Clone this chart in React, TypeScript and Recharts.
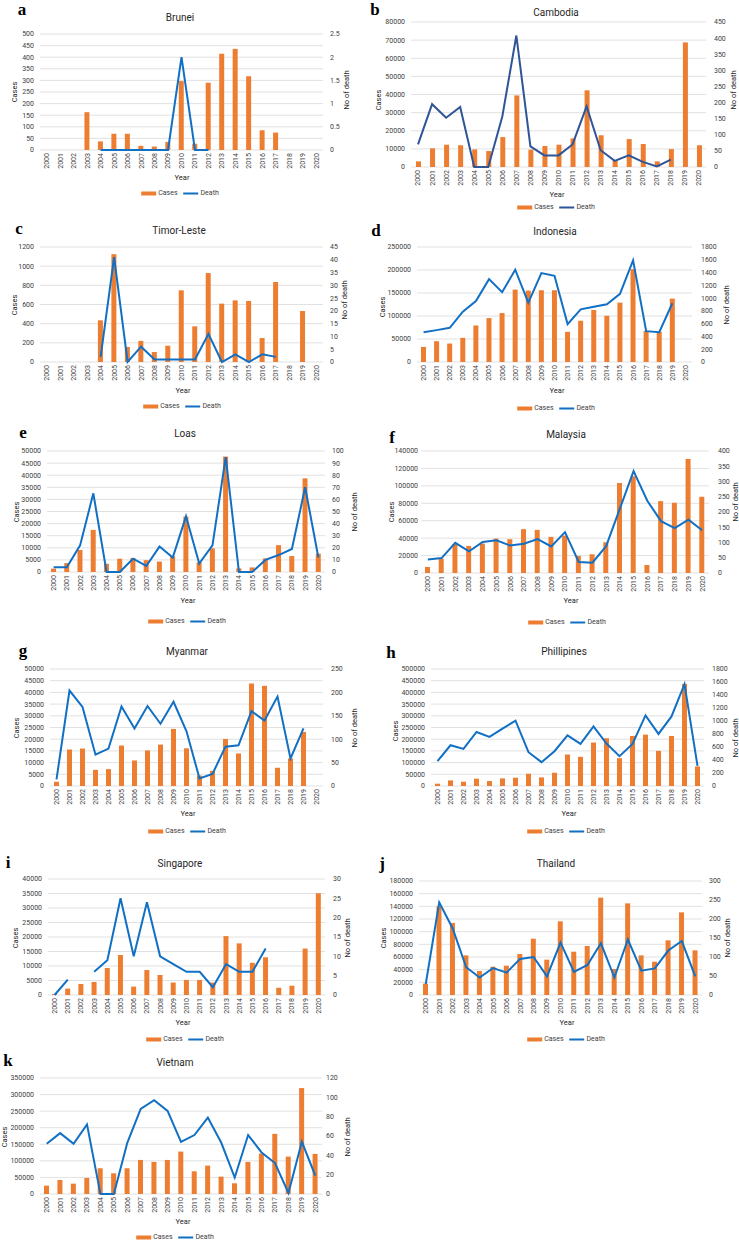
import React from "react";
import { ComposedChart, Bar, Line, XAxis, YAxis, CartesianGrid } from "recharts";

// Dengue cases (bars, left axis) and deaths (line, right axis), 2000-2020

const years = [
  "2000", "2001", "2002", "2003", "2004", "2005", "2006", "2007", "2008", "2009", "2010",
  "2011", "2012", "2013", "2014", "2015", "2016", "2017", "2018", "2019", "2020",
];

const bruneiCases = [null, null, null, 163, 37, 70, 70, 18, 15, 35, 297, 27, 290, 415, 436, 318, 85, 75, null, null, null];
const bruneiDeaths = [null, null, null, null, 0, 0, 0, 0, 0, 0, 2, 0, 0, null, null, null, null, null, null, null, null];
const bruneiCaseTicks = [0, 50, 100, 150, 200, 250, 300, 350, 400, 450, 500];
const bruneiDeathTicks = [0, 0.5, 1, 1.5, 2, 2.5];

const cambodiaCases = [3100, 10300, 12300, 12000, 9700, 8800, 16500, 39500, 9600, 11600, 12300, 15800, 42300, 17500, 3700, 15400, 12700, 3100, 9900, 68750, 12000];
const cambodiaDeaths = [70, 195, 153, 186, 0, 0, 157, 408, 64, 36, 36, 70, 188, 52, 19, 36, 16, 2, 23, null, null];
const cambodiaCaseTicks = [0, 10000, 20000, 30000, 40000, 50000, 60000, 70000, 80000];
const cambodiaDeathTicks = [0, 50, 100, 150, 200, 250, 300, 350, 400, 450];

const timorCases = [null, null, null, null, 435, 1125, 157, 220, 104, 170, 748, 372, 928, 609, 643, 637, 250, 835, null, 532, null];
const timorDeaths = [null, null, null, null, 2, 41, 0, 6, 1, 1, 1, 1, 11, 0, 3, 0, 3, 2, null, null, null];
const timorCaseTicks = [0, 200, 400, 600, 800, 1000, 1200];
const timorDeathTicks = [0, 5, 10, 15, 20, 25, 30, 35, 40, 45];

const indonesiaCases = [32800, 45200, 40100, 52500, 79400, 95500, 106400, 157400, 155200, 156000, 156000, 65600, 89700, 113000, 100600, 129000, 201900, 67800, 65600, 137800, null];
const indonesiaDeaths = [467, 499, 535, 787, 955, 1297, 1092, 1444, 929, 1391, 1349, 593, 824, 866, 903, 1066, 1591, 483, 467, 919, null];
const indonesiaCaseTicks = [0, 50000, 100000, 150000, 200000, 250000];
const indonesiaDeathTicks = [0, 200, 400, 600, 800, 1000, 1200, 1400, 1600, 1800];

const laosCases = [1400, 3700, 9100, 17400, 3400, 5500, 5800, 4900, 4300, 6500, 22900, 4000, 9800, 47700, 1500, 1900, 5600, 11100, 6600, 38700, 7600];
const laosDeaths = [4, 4, 22, 65, 0, 0, 11, 5, 21, 12, 46, 7, 22, 95, 0, 0, 10, 14, 19, 70, 12];
const laosCaseTicks = [0, 5000, 10000, 15000, 20000, 25000, 30000, 35000, 40000, 45000, 50000];
const laosDeathTicks = [0, 10, 20, 30, 40, 50, 60, 70, 80, 90, 100];

const malaysiaCases = [6900, 16500, 33400, 31100, 33800, 39500, 38800, 50300, 49500, 41500, 43000, 19600, 21500, 35300, 103300, 111000, 9200, 82500, 80600, 130900, 87500];
const malaysiaDeaths = [44, 49, 99, 71, 102, 107, 90, 96, 111, 87, 134, 36, 34, 88, 211, 334, 237, 170, 147, 175, 140];
const malaysiaCaseTicks = [0, 20000, 40000, 60000, 80000, 100000, 120000, 140000];
const malaysiaDeathTicks = [0, 50, 100, 150, 200, 250, 300, 350, 400];

const myanmarCases = [1800, 15600, 16000, 6900, 7200, 17300, 10900, 15200, 17700, 24400, 16100, 4500, 6500, 20100, 13900, 43800, 42800, 7800, 11800, 23100, null];
const myanmarDeaths = [14, 204, 169, 67, 80, 170, 123, 171, 133, 180, 117, 16, 26, 84, 87, 160, 140, 191, 59, 123, null];
const myanmarCaseTicks = [0, 5000, 10000, 15000, 20000, 25000, 30000, 35000, 40000, 45000, 50000];
const myanmarDeathTicks = [0, 50, 100, 150, 200, 250];

const philippinesCases = [9900, 24000, 18400, 31200, 21200, 32600, 35400, 52400, 36800, 56700, 134600, 124700, 185600, 204000, 119000, 213900, 219500, 150100, 213900, 436300, 83600];
const philippinesDeaths = [382, 627, 571, 831, 755, 882, 1005, 520, 367, 535, 780, 648, 918, 653, 459, 648, 1086, 801, 1071, 1566, 311];
const philippinesCaseTicks = [0, 50000, 100000, 150000, 200000, 250000, 300000, 350000, 400000, 450000, 500000];
const philippinesDeathTicks = [0, 200, 400, 600, 800, 1000, 1200, 1400, 1600, 1800];

const singaporeCases = [350, 2200, 3800, 4500, 9300, 13800, 2900, 8600, 6900, 4300, 5200, 5200, 4300, 20300, 17800, 11100, 13000, 2500, 3200, 16000, 35100];
const singaporeDeaths = [0, 4, null, 6, 9, 25, 10, 24, 10, 8, 6, 6, 2, 8, 6, 6, 12, null, null, null, null];
const singaporeCaseTicks = [0, 5000, 10000, 15000, 20000, 25000, 30000, 35000, 40000];
const singaporeDeathTicks = [0, 5, 10, 15, 20, 25, 30];

const thailandCases = [17900, 140000, 113700, 62600, 37900, 44700, 46300, 64700, 88900, 55800, 116300, 68400, 77400, 153700, 41000, 144700, 62600, 52600, 86300, 130500, 70500];
const thailandDeaths = [29, 244, 175, 73, 46, 71, 59, 95, 100, 49, 138, 61, 79, 136, 46, 146, 64, 70, 117, 142, 49];
const thailandCaseTicks = [0, 20000, 40000, 60000, 80000, 100000, 120000, 140000, 160000, 180000];
const thailandDeathTicks = [0, 50, 100, 150, 200, 250, 300];

const vietnamCases = [25200, 42300, 31200, 48400, 77600, 62500, 77600, 102800, 96800, 102800, 128000, 68500, 85700, 52400, 32300, 96800, 122000, 181500, 112900, 319600, 121000];
const vietnamDeaths = [52, 63, 52, 72, 0, 0, 53, 88, 97, 86, 54, 61, 79, 53, 17, 61, 43, 32, 1, 54, 19];
const vietnamCaseTicks = [0, 50000, 100000, 150000, 200000, 250000, 300000, 350000];
const vietnamDeathTicks = [0, 20, 40, 60, 80, 100, 120];

const BAR_COLOR = "#ED7D31";
const LINE_COLOR = "#1170C4";
const TEXT = "#404040";
const X_AXIS_H = 20;
const RIGHT_W = 28;

type Pt = [number, number];

type PanelProps = {
  letter: string;
  title: string;
  cases: (number | null)[];
  deaths: (number | null)[];
  caseTicks: number[];
  deathTicks: number[];
  box: [number, number, number]; // left, top, width
  plot: [number, number, number, number]; // x1, x2, y1, y2
  rightGap: number;
  leftGap?: number;
  lineColor?: string;
  letterAt: Pt;
  titleAt: Pt;
  casesAt: Pt;
  deathAt: Pt;
  yearAt: Pt;
  legendAt: Pt;
};

const YearTick = (props: any) => {
  const { x, y, payload } = props;
  return (
    <text
      x={x}
      y={y}
      transform={`rotate(-90 ${x} ${y})`}
      textAnchor="end"
      dy="0.35em"
      fontSize={7}
      fill={TEXT}
    >
      {payload.value}
    </text>
  );
};

const Txt = ({ at, size, rotate, style, children }: any) => (
  <div
    style={{
      position: "absolute",
      left: at[0],
      top: at[1],
      transform: `translate(-50%, -50%)${rotate ? " rotate(-90deg)" : ""}`,
      fontSize: size,
      color: "#262626",
      whiteSpace: "nowrap",
      lineHeight: 1,
      ...style,
    }}
  >
    {children}
  </div>
);

const LegendRow = ({ at, color }: { at: Pt; color: string }) => (
  <div
    style={{
      position: "absolute",
      left: at[0],
      top: at[1],
      transform: "translate(-50%, -50%)",
      display: "flex",
      alignItems: "center",
      fontSize: 7,
      color: TEXT,
      whiteSpace: "nowrap",
      lineHeight: 1,
    }}
  >
    <span style={{ width: 15, height: 4, background: BAR_COLOR, marginRight: 2 }} />
    Cases
    <span style={{ width: 15, height: 2, background: color, marginLeft: 6, marginRight: 2 }} />
    Death
  </div>
);

const Panel = (p: PanelProps) => {
  const data = years.map((year, i) => ({ year, cases: p.cases[i], death: p.deaths[i] }));
  const [bx, by, bw] = p.box;
  const [x1, x2, y1, y2] = p.plot;
  const color = p.lineColor || LINE_COLOR;
  return (
    <>
      <div style={{ position: "absolute", left: bx, top: by }}>
        <ComposedChart
          width={bw}
          height={y2 - by + X_AXIS_H}
          data={data}
          margin={{ top: y1 - by, left: 0, right: bx + bw - x2 - RIGHT_W, bottom: 0 }}
        >
          <CartesianGrid yAxisId="left" vertical={false} stroke="#D9D9D9" strokeWidth={0.8} />
          <XAxis
            dataKey="year"
            height={X_AXIS_H}
            axisLine={false}
            tickLine={false}
            tickSize={0}
            tickMargin={3}
            interval={0}
            tick={<YearTick />}
          />
          <YAxis
            yAxisId="left"
            width={x1 - bx}
            domain={[0, p.caseTicks[p.caseTicks.length - 1]]}
            ticks={p.caseTicks}
            interval={0}
            axisLine={false}
            tickLine={false}
            tickSize={0}
            tickMargin={p.leftGap ?? 6}
            tick={{ fontSize: 7, fill: TEXT }}
          />
          <YAxis
            yAxisId="right"
            orientation="right"
            width={RIGHT_W}
            domain={[0, p.deathTicks[p.deathTicks.length - 1]]}
            ticks={p.deathTicks}
            interval={0}
            axisLine={false}
            tickLine={false}
            tickSize={0}
            tickMargin={p.rightGap}
            tick={{ fontSize: 7, fill: TEXT, textAnchor: "start" }}
          />
          <Bar yAxisId="left" dataKey="cases" fill={BAR_COLOR} barSize={5} isAnimationActive={false} />
          <Line
            yAxisId="right"
            type="linear"
            dataKey="death"
            stroke={color}
            strokeWidth={2}
            dot={false}
            activeDot={false}
            isAnimationActive={false}
          />
        </ComposedChart>
      </div>
      <Txt at={p.letterAt} size={17} style={{ fontFamily: "'Liberation Serif', serif", fontWeight: 700, color: "#000" }}>
        {p.letter}
      </Txt>
      <Txt at={p.titleAt} size={10}>{p.title}</Txt>
      <Txt at={p.casesAt} size={7.5} rotate>Cases</Txt>
      <Txt at={p.deathAt} size={7.5} rotate>No of death</Txt>
      <Txt at={p.yearAt} size={7.5}>Year</Txt>
      <LegendRow at={p.legendAt} color={color} />
    </>
  );
};

const panels: PanelProps[] = [
  {
    letter: "a", title: "Brunei", cases: bruneiCases, deaths: bruneiDeaths,
    caseTicks: bruneiCaseTicks, deathTicks: bruneiDeathTicks,
    box: [0, 0, 369], plot: [40, 323, 34, 150], rightGap: 7,
    letterAt: [22, 9], titleAt: [180, 18], casesAt: [15, 92], deathAt: [347, 90],
    yearAt: [182, 178], legendAt: [180, 193],
  },
  {
    letter: "b", title: "Cambodia", cases: cambodiaCases, deaths: cambodiaDeaths,
    caseTicks: cambodiaCaseTicks, deathTicks: cambodiaDeathTicks,
    box: [369, 0, 370], plot: [411, 706, 22, 167], rightGap: 8, lineColor: "#2F5597",
    letterAt: [375, 9], titleAt: [556, 13], casesAt: [379, 100], deathAt: [734, 90],
    yearAt: [557, 195], legendAt: [556, 207],
  },
  {
    letter: "c", title: "Timor-Leste", cases: timorCases, deaths: timorDeaths,
    caseTicks: timorCaseTicks, deathTicks: timorDeathTicks,
    box: [0, 200, 369], plot: [40, 323, 247, 362], rightGap: 7,
    letterAt: [19, 228], titleAt: [179, 231], casesAt: [15, 305], deathAt: [345, 300],
    yearAt: [183, 391], legendAt: [182, 406],
  },
  {
    letter: "d", title: "Indonesia", cases: indonesiaCases, deaths: indonesiaDeaths,
    caseTicks: indonesiaCaseTicks, deathTicks: indonesiaDeathTicks,
    box: [369, 200, 370], plot: [417, 692, 247, 362], rightGap: 9,
    letterAt: [376, 230], titleAt: [555, 232], casesAt: [383, 307], deathAt: [727, 305],
    yearAt: [557, 391], legendAt: [556, 408],
  },
  {
    letter: "e", title: "Loas", cases: laosCases, deaths: laosDeaths,
    caseTicks: laosCaseTicks, deathTicks: laosDeathTicks,
    box: [0, 400, 369], plot: [47, 325, 451, 572], rightGap: 7,
    letterAt: [23, 432], titleAt: [185, 434], casesAt: [17, 512], deathAt: [355, 512],
    yearAt: [188, 601], legendAt: [187, 621],
  },
  {
    letter: "f", title: "Malaysia", cases: malaysiaCases, deaths: malaysiaDeaths,
    caseTicks: malaysiaCaseTicks, deathTicks: malaysiaDeathTicks,
    box: [369, 400, 370], plot: [421, 709, 451, 573], rightGap: 9, leftGap: 3,
    letterAt: [392, 437], titleAt: [566, 435], casesAt: [392, 512], deathAt: [736, 502],
    yearAt: [571, 601], legendAt: [567, 622],
  },
  {
    letter: "g", title: "Myanmar", cases: myanmarCases, deaths: myanmarDeaths,
    caseTicks: myanmarCaseTicks, deathTicks: myanmarDeathTicks,
    box: [0, 600, 369], plot: [50, 323, 669, 786], rightGap: 8,
    letterAt: [23, 650], titleAt: [187, 652], casesAt: [17, 728], deathAt: [355, 728],
    yearAt: [188, 814], legendAt: [187, 831],
  },
  {
    letter: "h", title: "Phillipines", cases: philippinesCases, deaths: philippinesDeaths,
    caseTicks: philippinesCaseTicks, deathTicks: philippinesDeathTicks,
    box: [369, 600, 370], plot: [431, 704, 669, 786], rightGap: 8,
    letterAt: [391, 652], titleAt: [564, 652], casesAt: [396, 731], deathAt: [736, 738],
    yearAt: [569, 814], legendAt: [566, 831],
  },
  {
    letter: "i", title: "Singapore", cases: singaporeCases, deaths: singaporeDeaths,
    caseTicks: singaporeCaseTicks, deathTicks: singaporeDeathTicks,
    box: [0, 800, 369], plot: [48, 325, 879, 995], rightGap: 8,
    letterAt: [8, 862], titleAt: [180, 864], casesAt: [16, 938], deathAt: [348, 938],
    yearAt: [183, 1023], legendAt: [185, 1039],
  },
  {
    letter: "j", title: "Thailand", cases: thailandCases, deaths: thailandDeaths,
    caseTicks: thailandCaseTicks, deathTicks: thailandDeathTicks,
    box: [369, 800, 370], plot: [419, 702, 881, 995], rightGap: 7,
    letterAt: [382, 863], titleAt: [556, 864], casesAt: [384, 938], deathAt: [728, 938],
    yearAt: [567, 1023], legendAt: [566, 1039],
  },
  {
    letter: "k", title: "Vietnam", cases: vietnamCases, deaths: vietnamDeaths,
    caseTicks: vietnamCaseTicks, deathTicks: vietnamDeathTicks,
    box: [0, 1000, 369], plot: [40, 322, 1078, 1194], rightGap: 4,
    letterAt: [8, 1060], titleAt: [175, 1063], casesAt: [5, 1137], deathAt: [348, 1137],
    yearAt: [183, 1222], legendAt: [175, 1237],
  },
];

export default function App() {
  return (
    <div
      style={{
        position: "absolute",
        left: 0,
        top: 0,
        width: 739,
        height: 1240,
        overflow: "hidden",
        background: "#fff",
        fontFamily: "Roboto, 'Noto Sans', sans-serif",
      }}
    >
      {panels.map((p) => (
        <Panel key={p.letter} {...p} />
      ))}
    </div>
  );
}
